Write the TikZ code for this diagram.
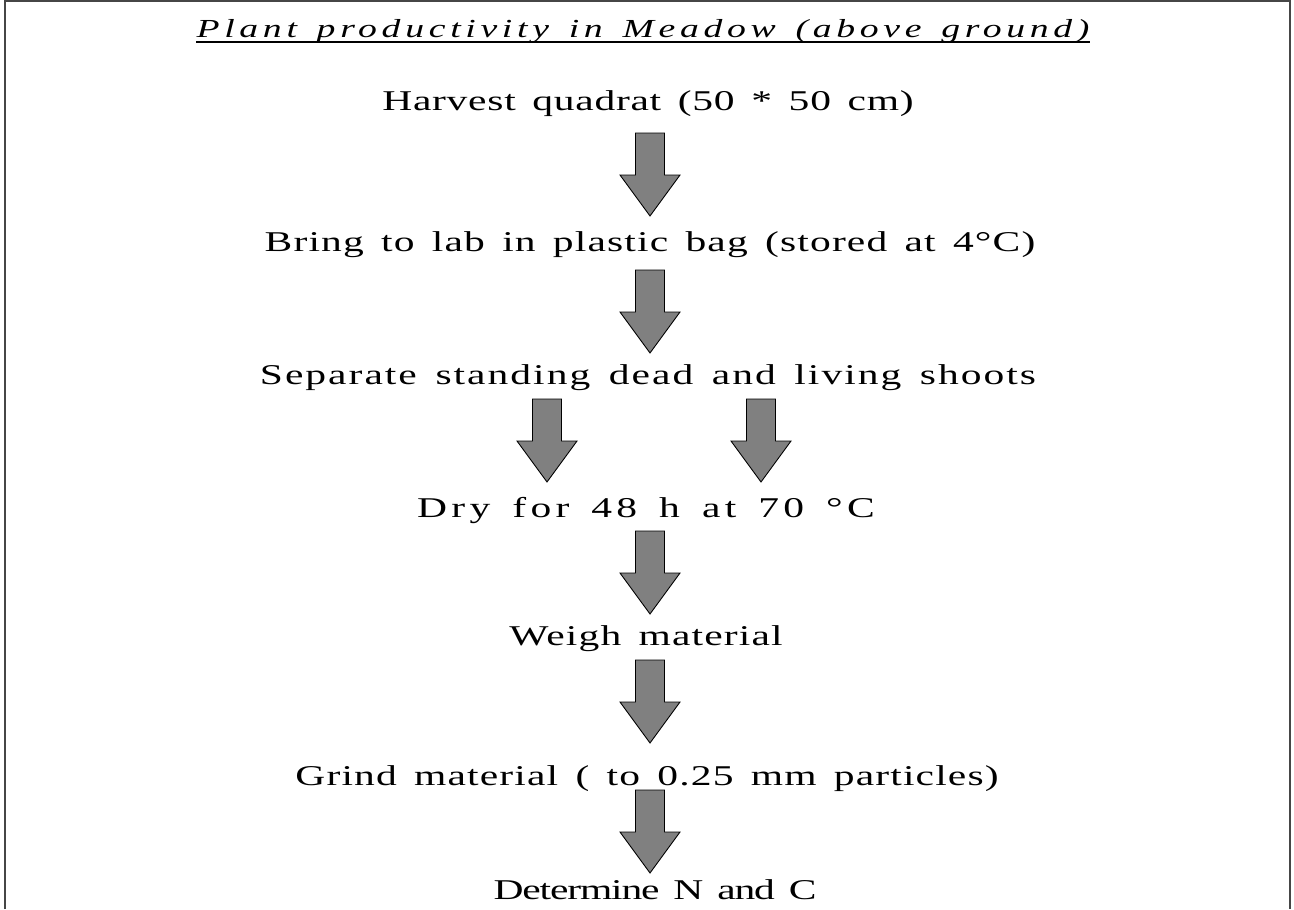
\documentclass[tikz,border=0pt]{standalone}
\usepackage{fontspec}
\setmainfont{Liberation Serif}
\newfontfamily\stepfont[FakeStretch=1.45, LetterSpace=4, WordSpace=1.5]{Liberation Serif}
\newfontfamily\titlefont[FakeStretch=1.45, LetterSpace=18, WordSpace=1.4]{Liberation Serif}
\usetikzlibrary{calc}
\definecolor{arrowgray}{RGB}{128,128,128}
\definecolor{framegray}{RGB}{70,70,70}
\newcommand{\blockdown}[2]{ \draw[arrowbox] (#1-14.5,#2) -- (#1+14.5,#2) -- (#1+14.5,#2+42) -- (#1+30,#2+42) -- (#1,#2+83) -- (#1-30,#2+42) -- (#1-14.5,#2+42) -- cycle;}
\newcommand{\spread}[1]{\addfontfeature{LetterSpace=#1}}
\tikzset{
  arrowbox/.style={fill=arrowgray, draw=black, line width=0.5pt, line join=miter},
  steptext/.style={anchor=base, inner sep=0pt, font=\stepfont\fontsize{16.3}{19}\selectfont},
  titletext/.style={anchor=base, inner sep=0pt, font=\titlefont\itshape\fontsize{14.8}{18}\selectfont}
}
\begin{document}
\begin{tikzpicture}[x=0.02cm, y=-0.02cm]
        \useasboundingbox (0,0) rectangle (1294,909);
        % frame, open at the bottom
        \draw[framegray, line width=1.1pt] (5,909) -- (5,1) -- (1290,1) -- (1290,909);

        % title
        \node[titletext] (title) at (643,38) {Plant productivity in Meadow (above ground)};
        \draw[line width=0.6pt] ($(title.base west)+(0,4)$) -- ($(title.base east)+(0,4)$);

        % steps
        \node[steptext] (harvest) at (648,111) {\spread{2.5}Harvest quadrat (50 * 50 cm)};
        \node[steptext] (bring) at (650,251) {Bring to lab in plastic bag (stored at 4°C)};
        \node[steptext] (separate) at (648,384) {\spread{7}Separate standing dead and living shoots};
        \node[steptext] (dry) at (646,517) {\spread{15}Dry for 48 h at 70 °C};
        \node[steptext] (weigh) at (646,645) {Weigh material};
        \node[steptext] (grind) at (647,785) {Grind material ( to 0.25 mm particles)};
        \node[steptext] (determine) at (655,899) {\spread{-4}Determine N and C};

        % arrows
        \blockdown{650}{133}
        \blockdown{650}{270}
        \blockdown{547}{399}
        \blockdown{761}{399}
        \blockdown{650}{531}
        \blockdown{650}{660}
        \blockdown{650}{790}
    \end{tikzpicture}
\end{document}
